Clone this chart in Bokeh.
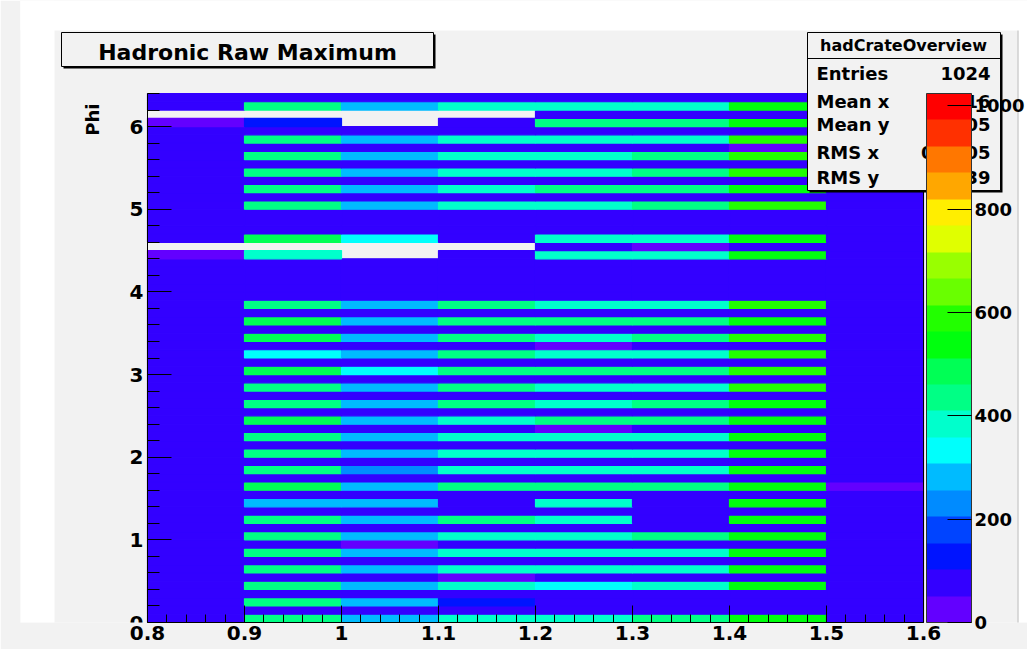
import math
from bokeh.plotting import figure
from bokeh.models import (Range1d, FixedTicker, SingleIntervalTicker, CustomJSTickFormatter,
                          LinearColorMapper, ColorBar, BoxAnnotation, Label, ColumnDataSource)
from bokeh.embed import file_html
from bokeh.resources import INLINE

# ---------------- data ----------------
TITLE = "Hadronic Raw Maximum"
HIST_NAME = "hadCrateOverview"
Y_TITLE = "Phi"
X_EDGES = [0.8, 0.9, 1.0, 1.1, 1.2, 1.3, 1.4, 1.5, 1.6]
Y_LOW = 0.0
Y_BIN = 0.1
X_TICKS = [0.8, 0.9, 1.0, 1.1, 1.2, 1.3, 1.4, 1.5, 1.6]
Z_TICKS = [0, 200, 400, 600, 800, 1000]
Z_MAX = 1024
STAT_NAMES = ["Entries", "Mean x", "Mean y", "RMS x", "RMS y"]
STAT_VALUES = ["1024", "1.016", "3.105", "0.1805", "1.839"]

# cell contents, one row per phi bin (bottom row first); None = empty bin
Z = [
    [80, 435, 285, 385, 385, 435, 540, 80],   # 0.0
    [80, 80, 80, 80, 80, 80, 80, 80],
    [80, 435, 285, 130, 80, 80, 80, 80],      # 0.2
    [80, 80, 80, 80, 80, 80, 80, 80],
    [80, 435, 285, 385, 335, 385, 540, 80],   # 0.4
    [80, 80, 80, 30, 80, 80, 80, 80],
    [80, 435, 285, 385, 385, 385, 540, 80],   # 0.6
    [80, 80, 80, 80, 80, 80, 80, 80],
    [80, 435, 285, 385, 385, 385, 540, 80],   # 0.8
    [80, 80, 30, 80, 80, 80, 80, 80],
    [80, 435, 285, 385, 385, 435, 540, 80],   # 1.0
    [80, 80, 80, 80, 80, 80, 80, 80],
    [80, 435, 285, 435, 385, 80, 540, 80],    # 1.2
    [80, 80, 80, 80, 80, 80, 80, 80],
    [80, 285, 285, 80, 385, 80, 540, 80],     # 1.4
    [80, 80, 80, 80, 80, 80, 80, 80],
    [80, 485, 285, 435, 435, 435, 540, 30],   # 1.6
    [80, 80, 80, 80, 80, 80, 80, 80],
    [80, 435, 235, 385, 385, 385, 540, 80],   # 1.8
    [80, 80, 80, 80, 80, 80, 80, 80],
    [80, 435, 285, 385, 385, 385, 540, 80],   # 2.0
    [80, 80, 80, 80, 80, 80, 80, 80],
    [80, 435, 285, 385, 385, 385, 540, 80],   # 2.2
    [80, 80, 80, 80, 30, 80, 80, 80],
    [80, 485, 285, 385, 435, 435, 540, 80],   # 2.4
    [80, 80, 80, 80, 80, 80, 80, 80],
    [80, 435, 285, 435, 385, 435, 540, 80],   # 2.6
    [80, 80, 80, 80, 80, 80, 80, 80],
    [80, 435, 285, 435, 385, 385, 590, 80],   # 2.8
    [80, 80, 80, 80, 80, 80, 80, 80],
    [80, 485, 335, 435, 435, 435, 590, 80],   # 3.0
    [80, 80, 80, 80, 80, 80, 80, 80],
    [80, 335, 285, 435, 385, 385, 590, 80],   # 3.2
    [80, 80, 80, 80, 30, 80, 80, 80],
    [80, 485, 285, 435, 385, 435, 590, 80],   # 3.4
    [80, 80, 80, 80, 80, 80, 80, 80],
    [80, 485, 285, 435, 435, 435, 540, 80],   # 3.6
    [80, 80, 80, 80, 80, 80, 80, 80],
    [80, 435, 285, 435, 385, 385, 590, 80],   # 3.8
    [80, 80, 80, 80, 80, 80, 80, 80],
    [80, 80, 80, 80, 80, 80, 80, 80],         # 4.0
    [80, 80, 80, 80, 80, 80, 80, 80],
    [80, 80, 80, 80, 80, 80, 80, 80],         # 4.2
    [80, 80, 80, 80, 80, 80, 80, 80],
    [30, 385, None, 80, 385, 385, 540, 80],   # 4.4
    [None, None, None, None, 80, 30, 80, 80],
    [80, 485, 335, 80, 385, 385, 540, 80],    # 4.6
    [80, 80, 80, 80, 80, 80, 80, 80],
    [80, 80, 80, 80, 80, 80, 80, 80],         # 4.8
    [80, 80, 80, 80, 80, 80, 80, 80],
    [80, 435, 285, 385, 385, 435, 590, 80],   # 5.0
    [80, 80, 80, 80, 80, 80, 80, 80],
    [80, 435, 285, 385, 435, 435, 540, 80],   # 5.2
    [80, 80, 80, 80, 80, 80, 80, 80],
    [80, 435, 285, 385, 385, 435, 590, 80],   # 5.4
    [80, 80, 80, 80, 80, 80, 80, 80],
    [80, 435, 285, 385, 385, 435, 590, 80],   # 5.6
    [80, 80, 80, 80, 80, 80, 30, 80],
    [80, 435, 285, 385, 385, 385, 590, 80],   # 5.8
    [80, 80, 80, 80, 80, 80, 80, 80],
    [30, 130, None, 80, 435, 435, 540, 80],   # 6.0
    [None, None, None, None, 80, 80, 80, 80],
    [80, 435, 285, 385, 385, 385, 540, 80],   # 6.2
    [80, 80, 80, 80, 80, 80, 80, 80],
]

# ROOT "pretty" palette, 20 contour levels
PALETTE = ["#6300ff", "#3300ff", "#0014ff", "#0044ff", "#008bff",
           "#00bbff", "#00fffc", "#00ffcc", "#00ff85", "#00ff55",
           "#00ff0e", "#22ff00", "#69ff00", "#99ff00", "#e0ff00",
           "#ffee00", "#ffa700", "#ff7700", "#ff3000", "#ff0000"]

PAD = "#f2f2f2"
FONT = "DejaVu Sans"
W, H = 1027, 649

# ---------------- cells ----------------
left, right, bottom, top, zz = [], [], [], [], []
for k, zrow in enumerate(Z):
    for i, v in enumerate(zrow):
        if v is None:
            continue
        left.append(X_EDGES[i]); right.append(X_EDGES[i + 1])
        bottom.append(Y_LOW + k * Y_BIN); top.append(Y_LOW + (k + 1) * Y_BIN)
        zz.append(v)
src = ColumnDataSource(dict(left=left, right=right, bottom=bottom, top=top, z=zz))

mapper = LinearColorMapper(palette=PALETTE, low=0, high=Z_MAX)

# pixel box of the histogram frame inside the window
FX0, FX1, FY0, FY1 = 147, 923, 622, 93
y_top = Y_LOW + len(Z) * Y_BIN

def dx(px):
    return X_EDGES[0] + (px - FX0) * (X_EDGES[-1] - X_EDGES[0]) / (FX1 - FX0)

def dy(py):
    return Y_LOW + (FY0 - py) * (y_top - Y_LOW) / (FY0 - FY1)

LEFT_BORDER = 20
p = figure(width=W, height=H,
           x_range=Range1d(dx(LEFT_BORDER), dx(W)), y_range=Range1d(Y_LOW, dy(0)),
           output_backend="svg", toolbar_location=None, title=None,
           min_border_left=LEFT_BORDER, min_border_right=0,
           min_border_top=0, min_border_bottom=H - FY0,
           background_fill_color=PAD, border_fill_color=PAD,
           outline_line_color=None)
p.grid.visible = False

p.quad(left="left", right="right", bottom="bottom", top="top", source=src,
       fill_color={"field": "z", "transform": mapper},
       line_color={"field": "z", "transform": mapper}, line_width=1.2)

# axes
xa = p.xaxis[0]
xa.ticker = FixedTicker(ticks=X_TICKS,
                        minor_ticks=[round(X_EDGES[0] + 0.02 * i, 2) for i in range(41)])
xa.formatter = CustomJSTickFormatter(code="return String(parseFloat(tick.toFixed(3)))")
xa.bounds = (X_EDGES[0], X_EDGES[-1])
xa.major_tick_in = 17; xa.major_tick_out = 0
xa.minor_tick_in = 8; xa.minor_tick_out = 0
xa.major_label_standoff = 3
ya = p.yaxis[0]
ya.ticker = SingleIntervalTicker(interval=1, num_minor_ticks=5)
ya.bounds = (Y_LOW, y_top)
ya.fixed_location = X_EDGES[0]
ya.major_tick_in = 24; ya.major_tick_out = 0
ya.minor_tick_in = 12; ya.minor_tick_out = 0
ya.major_label_standoff = 4
for ax in (xa, ya):
    ax.axis_line_color = "black"
    ax.major_tick_line_color = "black"
    ax.minor_tick_line_color = "black"
    ax.major_label_text_font = FONT
    ax.major_label_text_font_style = "bold"
    ax.major_label_text_font_size = "20px"
    ax.major_label_text_color = "black"

def box(x0, y0, x1, y1, fill, line=None, level="annotation"):
    p.add_layout(BoxAnnotation(left=dx(x0), right=dx(x1), top=dy(y0), bottom=dy(y1),
                               fill_color=fill, fill_alpha=1.0 if fill else 0.0,
                               line_color=line, line_width=1, line_alpha=1.0, level=level))

def label(x, y, text, size, align="left", angle=0.0, baseline="middle"):
    p.add_layout(Label(x=dx(x), y=dy(y), text=text, text_font=FONT, text_font_style="bold",
                       text_font_size=size, text_align=align, text_baseline=baseline,
                       text_color="black", angle=angle))

# white window margins around the grey canvas
box(0, 0, W, 30, "white", level="underlay")
box(0, 0, 54, H, "white", level="underlay")
box(1017, 0, W, H, "white", level="underlay")
box(1017, 30, 1018, H, "#b8b8b8", level="underlay")

# right edge of the histogram frame
box(FX1, FY1, FX1, FY0, None, "black", level="guide")

# y axis title
label(92, 103, Y_TITLE, "18px", align="right", angle=math.pi / 2, baseline="alphabetic")

# title box
box(63, 34, 435, 68, "black")
box(61, 32, 433, 66, PAD, "black")
label(247, 52, TITLE, "22px", align="center")

# stats box
box(809, 34, 1002, 192, "black")
box(807, 32, 1000, 190, PAD, "black")
box(807, 57.5, 1000, 58.5, "black")
label(903, 45, HIST_NAME, "16px", align="center")
stat_y = [73, 101, 124, 152, 177]
for name, val, yy in zip(STAT_NAMES, STAT_VALUES, stat_y):
    label(816, yy, name, "18px")
    label(990, yy, val, "18px", align="right")

# palette axis
cb = ColorBar(color_mapper=mapper, location=(926 - LEFT_BORDER, 0), width=45, height=FY0 - FY1,
              padding=0, margin=0, ticker=FixedTicker(ticks=Z_TICKS),
              major_tick_in=24, major_tick_out=0, major_tick_line_color="black",
              minor_tick_line_color=None, label_standoff=3,
              major_label_text_font=FONT, major_label_text_font_style="bold",
              major_label_text_font_size="18px", major_label_text_color="black",
              background_fill_color=None, border_line_color=None,
              bar_line_color="#333333", title=None)
p.add_layout(cb)

open("out.html", "w").write(file_html(p, INLINE))
